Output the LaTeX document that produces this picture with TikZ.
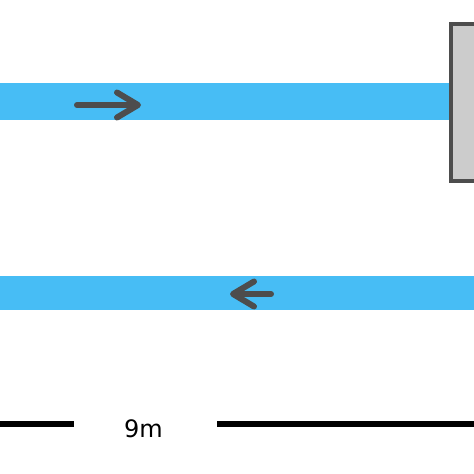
\documentclass[tikz,border=0pt]{standalone}
\usepackage{fontspec}
\setmainfont{DejaVu Sans}
\usetikzlibrary{arrows.meta}
\definecolor{beam}{HTML}{47BDF5}
\definecolor{dgray}{HTML}{4D4D4D}
\definecolor{lgray}{HTML}{CCCCCC}
\tikzset{
  beamband/.style={fill=beam, draw=none},
  dirarrow/.style={draw=dgray, line width=6pt, line cap=round, line join=round,
    -{Straight Barb[length=21pt, width=25pt, line cap=round, line join=round]}},
  dimline/.style={draw=black, line width=6pt},
}
\begin{document}
\begin{tikzpicture}[x=1pt,y=-1pt]
\useasboundingbox (0,0) rectangle (474,474);
% beams
\fill[beamband] (0,83) rectangle (450,120);
\fill[beamband] (0,276) rectangle (474,310);
% mirror
\draw[draw=dgray, fill=lgray, line width=4pt] (480,24) -- (451,24) -- (451,181) -- (480,181);
% arrows
\coordinate (a1s) at (77,105);
\coordinate (a1e) at (141,105);
\draw[dirarrow] (a1s) -- (a1e);
\coordinate (a2s) at (271,294);
\coordinate (a2e) at (230,294);
\draw[dirarrow] (a2s) -- (a2e);
% dimension
\coordinate (d1a) at (0,424);
\coordinate (d1b) at (74,424);
\coordinate (d2a) at (217,424);
\coordinate (d2b) at (474,424);
\draw[dimline] (d1a) -- (d1b);
\draw[dimline] (d2a) -- (d2b);
\node[font=\fontsize{24}{28}\selectfont, inner sep=0pt] (lbl) at (143.5,429) {9m};
\end{tikzpicture}
\end{document}
